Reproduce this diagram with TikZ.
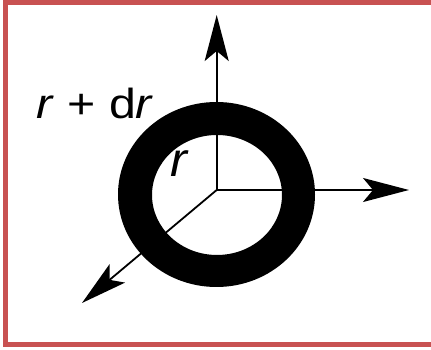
\documentclass[tikz,border=0pt]{standalone}
\usepackage{fontspec}
\setmainfont{Liberation Sans}
\usetikzlibrary{arrows.meta}
\definecolor{framered}{RGB}{200,82,82}
\begin{document}
\begin{tikzpicture}[x=1pt,y=1pt,
  axis/.style={line width=1.8pt,-{Stealth[length=46pt,width=24pt,inset=10pt]}},
  lbl/.style={inner sep=0pt,anchor=base}]
\useasboundingbox (0,0) rectangle (431,350);
\draw[framered,line width=5pt] (440,347.5) -- (5,347.5) -- (5,5.5) -- (440,5.5);
% ring
\fill[black,even odd rule] (216.5,155.5) ellipse [x radius=98.5,y radius=92.5]
  (217,155) ellipse [x radius=65,y radius=60];
\coordinate (O) at (216.7,160);
\coordinate (up) at (216.7,335);
\coordinate (right) at (409,160);
\coordinate (diag) at (82,47);
\draw[axis] (O) -- (up);
\draw[axis] (O) -- (right);
\draw[axis] (O) -- (diag);
\node[lbl,xscale=1.15] (outer) at (95,231) {\fontsize{42}{46}\selectfont\textit{r} + d\textit{r}};
\node[lbl,xscale=1.05] (inner) at (180,173) {\fontsize{48}{52}\selectfont\textit{r}};
\end{tikzpicture}
\end{document}
